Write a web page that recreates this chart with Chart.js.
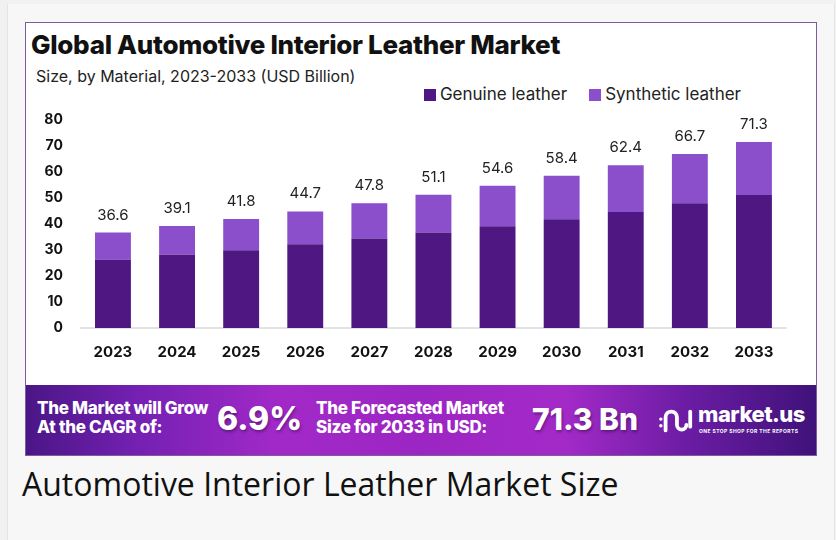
<!DOCTYPE html>
<html>
<head>
  <meta charset="UTF-8">
  <title>Automotive Interior Leather Market</title>
  <script src="https://cdn.jsdelivr.net/npm/chart.js"></script>
  <style>
    body {
      margin: 0;
      background: #f1f1f1;
      font-family: Inter, "Open Sans", sans-serif;
    }
    #frame {
      position: absolute;
      left: 7px; top: 4px;
      width: 826px; height: 540px;
      background: #f7f7f7;
      border-left: 1px solid #e4e4e4;
      border-right: 1px solid #e4e4e4;
    }
    #card {
      position: absolute;
      left: 25px; top: 22px;
      width: 790px; height: 432px;
      background: #fff;
      border: 1px solid #7d5c9c;
    }
    #title {
      position: absolute;
      left: 5px; top: 6px;
      font-size: 26px; font-weight: 800;
      color: #111;
      letter-spacing: -0.3px;
    }
    #subtitle {
      position: absolute;
      left: 10px; top: 43px;
      font-size: 16px;
      color: #222;
    }
    #legend {
      position: absolute;
      right: 75px; top: 61px;
      display: flex;
      gap: 22px;
      font-size: 17px;
      color: #222;
    }
    #legend span.box {
      display: inline-block;
      width: 12px; height: 12px;
      margin-right: 4px;
      vertical-align: -1px;
    }
    #chartBox {
      position: absolute;
      left: 0; top: 78px;
      width: 790px; height: 284px;
    }
    #banner {
      position: absolute;
      left: 0; top: 362px;
      width: 790px; height: 70px;
      background: linear-gradient(90deg, #4a1686 0%, #7420b2 14%, #a229c8 32%, #9c26c3 50%, #a42ac8 68%, #6a1ca3 84%, #3f127a 100%);
      color: #fff;
      font-weight: 800;
    }
    .small {
      position: absolute;
      top: 14px;
      font-size: 17px;
      line-height: 19px;
      letter-spacing: -0.3px;
    }
    .big {
      position: absolute;
      top: 14px;
      line-height: 40px;
      text-shadow: 1px 2px 3px rgba(0,0,0,0.35);
    }
    #caption {
      position: absolute;
      left: 22px; top: 462px;
      font-family: "Open Sans", sans-serif;
      font-size: 32px;
      color: #111;
    }
  </style>
</head>
<body>
  <div id="frame"></div>
  <div id="card">
    <div id="title">Global Automotive Interior Leather Market</div>
    <div id="subtitle">Size, by Material, 2023-2033 (USD Billion)</div>
    <div id="legend"></div>
    <div id="chartBox"><canvas id="leatherChart"></canvas></div>
    <div id="banner">
      <div class="small" style="left:11px">The Market will Grow<br>At the CAGR of:</div>
      <div class="big" style="left:191px;font-size:32px">6.9%</div>
      <div class="small" style="left:290px">The Forecasted Market<br>Size for 2033 in USD:</div>
      <div class="big" style="left:506px;font-size:30px">71.3 Bn</div>
      <svg style="position:absolute;left:632px;top:20px" width="36" height="32" viewBox="0 0 38 32">
        <path d="M8 26 V12 a6 6 0 0 1 12 0 V20 a5 5 0 0 0 10 0" fill="none" stroke="#fff" stroke-width="4" stroke-linecap="round"/>
        <line x1="34" y1="6" x2="34" y2="22" stroke="#fff" stroke-width="4" stroke-linecap="round"/>
        <circle cx="3" cy="14" r="1.8" fill="#fff"/>
        <circle cx="3" cy="21" r="1.8" fill="#fff"/>
      </svg>
      <div style="position:absolute;left:672px;top:16px;font-size:22px;font-weight:800;letter-spacing:-0.5px">market.us</div>
      <div style="position:absolute;left:673px;top:43px;font-size:5px;font-weight:700;letter-spacing:0.4px">ONE STOP SHOP FOR THE REPORTS</div>
    </div>
  </div>
  <div id="caption">Automotive Interior Leather Market Size</div>

  <script>
    const years = ['2023', '2024', '2025', '2026', '2027', '2028', '2029', '2030', '2031', '2032', '2033'];
    const genuine = [26.2, 28.1, 29.8, 32.1, 34.3, 36.6, 39.0, 41.7, 44.5, 47.8, 51.0];
    const synthetic = [10.4, 11.0, 12.0, 12.6, 13.5, 14.5, 15.6, 16.7, 17.9, 18.9, 20.3];
    const totals = [36.6, 39.1, 41.8, 44.7, 47.8, 51.1, 54.6, 58.4, 62.4, 66.7, 71.3];
    const yTicks = [0, 10, 20, 30, 40, 50, 60, 70, 80];

    // writes the market size above each stack
    const totalLabels = {
      id: 'totalLabels',
      afterDatasetsDraw(chart) {
        const ctx = chart.ctx;
        const meta = chart.getDatasetMeta(1);
        ctx.save();
        ctx.font = '15px Inter, sans-serif';
        ctx.fillStyle = '#222';
        ctx.textAlign = 'center';
        ctx.textBaseline = 'bottom';
        meta.data.forEach((bar, i) => {
          ctx.fillText(totals[i].toFixed(1), bar.x, bar.y - 10);
        });
        ctx.restore();
      }
    };

    const chart = new Chart(document.getElementById('leatherChart'), {
      type: 'bar',
      data: {
        labels: years,
        datasets: [{
          label: 'Genuine leather',
          data: genuine,
          backgroundColor: '#4e1781'
        }, {
          label: 'Synthetic leather',
          data: synthetic,
          backgroundColor: '#8b4fcc'
        }]
      },
      options: {
        responsive: true,
        maintainAspectRatio: false,
        animation: false,
        categoryPercentage: 1,
        barPercentage: 0.56,
        layout: {
          padding: { left: 8, right: 30, top: 10, bottom: 17 }
        },
        plugins: {
          legend: { display: false },
          tooltip: { enabled: false }
        },
        scales: {
          x: {
            stacked: true,
            grid: { display: false },
            border: { display: true, color: '#e2e2e2', width: 2 },
            ticks: {
              color: '#111',
              padding: 7,
              font: { size: 15, weight: 'bold', family: 'Inter, sans-serif' }
            }
          },
          y: {
            stacked: true,
            min: 0,
            max: 80,
            afterBuildTicks(axis) {
              axis.ticks = yTicks.map(v => ({ value: v }));
            },
            grid: { display: false },
            border: { display: false },
            ticks: {
              color: '#111',
              padding: 10,
              font: { size: 14, weight: 'bold', family: 'Inter, sans-serif' }
            }
          }
        }
      },
      plugins: [totalLabels]
    });

    // legend built from the datasets
    const legendEl = document.getElementById('legend');
    chart.data.datasets.forEach(ds => {
      const item = document.createElement('div');
      item.innerHTML = '<span class="box" style="background:' + ds.backgroundColor + '"></span>' + ds.label;
      legendEl.appendChild(item);
    });
  </script>
</body>
</html>
